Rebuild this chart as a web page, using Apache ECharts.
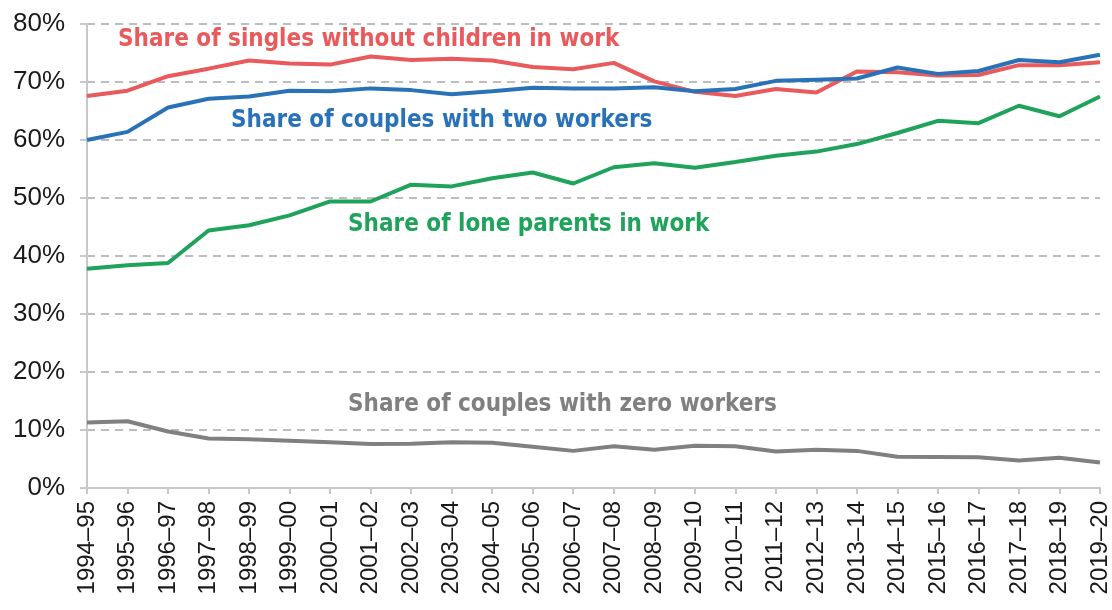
<!DOCTYPE html>
<html>
<head>
<meta charset="utf-8">
<script src="https://cdn.jsdelivr.net/npm/echarts@6/dist/echarts.min.js"></script>
<style>
html,body{margin:0;padding:0;background:#fff;}
#chart{width:1112px;height:610px;}
</style>
</head>
<body>
<div id="chart"></div>
<script>
var categories = ['1994–95','1995–96','1996–97','1997–98','1998–99','1999–00','2000–01','2001–02','2002–03','2003–04','2004–05','2005–06','2006–07','2007–08','2008–09','2009–10','2010–11','2011–12','2012–13','2013–14','2014–15','2015–16','2016–17','2017–18','2018–19','2019–20'];
var singlesNoChildren = [67.6,68.5,71.0,72.3,73.7,73.2,73.0,74.4,73.8,74.0,73.7,72.6,72.2,73.3,70.1,68.3,67.6,68.8,68.2,71.8,71.7,71.1,71.2,72.9,72.9,73.4];
var couplesTwoWorkers = [60.0,61.4,65.6,67.1,67.5,68.5,68.4,68.9,68.6,67.9,68.4,69.0,68.9,68.9,69.1,68.4,68.8,70.2,70.4,70.6,72.5,71.4,71.9,73.8,73.4,74.7];
var loneParents = [37.8,38.4,38.8,44.4,45.3,47.0,49.4,49.4,52.3,52.0,53.4,54.4,52.5,55.3,56.0,55.2,56.2,57.3,58.0,59.3,61.2,63.3,62.9,65.9,64.1,67.5];
var couplesZeroWorkers = [11.3,11.5,9.75,8.55,8.4,8.15,7.9,7.6,7.65,7.9,7.8,7.1,6.4,7.2,6.6,7.3,7.2,6.3,6.6,6.4,5.4,5.35,5.3,4.75,5.2,4.4];
var seriesNames = ['Share of singles without children in work','Share of couples with two workers','Share of lone parents in work','Share of couples with zero workers'];

var colors = ['#e95a5c','#2a72b8','#1fa35b','#808080'];
var labelFont = "'DejaVu Sans Condensed','Roboto',sans-serif";

var chart = echarts.init(document.getElementById('chart'), null, {renderer:'canvas'});
function line(name, data, color){
  return {name:name, type:'line', data:data, symbol:'none', smooth:false,
    lineStyle:{color:color, width:4}, itemStyle:{color:color}, z:3};
}
function label(text, x, y, color){
  return {type:'text', x:x, y:y, silent:true,
    style:{text:text, fill:color, font:"bold 24px "+labelFont, align:'left', verticalAlign:'middle'}};
}
chart.setOption({
  animation:false,
  backgroundColor:'#ffffff',
  grid:{left:87, right:9, top:24, bottom:122, containLabel:false},
  xAxis:{type:'category', data:categories, boundaryGap:false,
    axisLine:{show:true, lineStyle:{color:'#c8c8c8', width:2}},
    axisTick:{show:true, length:6, lineStyle:{color:'#c8c8c8', width:2}},
    axisLabel:{rotate:90, margin:13, fontSize:24, color:'#1a1a1a', fontFamily:"'Liberation Sans',Arial,sans-serif", interval:0},
    splitLine:{show:false}},
  yAxis:{type:'value', min:0, max:80, interval:10,
    axisLine:{show:true, lineStyle:{color:'#c8c8c8', width:2}},
    axisTick:{show:true, length:7, lineStyle:{color:'#c8c8c8', width:2}},
    axisLabel:{formatter:'{value}%', fontSize:26, color:'#1a1a1a', margin:22, fontFamily:"'Liberation Sans',Arial,sans-serif"},
    splitLine:{show:true, lineStyle:{color:'#bdbdbd', width:2, type:[8,6]}}},
  series:[
    line(seriesNames[3], couplesZeroWorkers, colors[3]),
    line(seriesNames[2], loneParents, colors[2]),
    line(seriesNames[0], singlesNoChildren, colors[0]),
    line(seriesNames[1], couplesTwoWorkers, colors[1])
  ],
  graphic:[
    label(seriesNames[0], 118, 40, colors[0]),
    label(seriesNames[1], 231, 121, colors[1]),
    label(seriesNames[2], 348, 225, colors[2]),
    label(seriesNames[3], 348, 405, colors[3])
  ]
});
</script>
</body>
</html>
